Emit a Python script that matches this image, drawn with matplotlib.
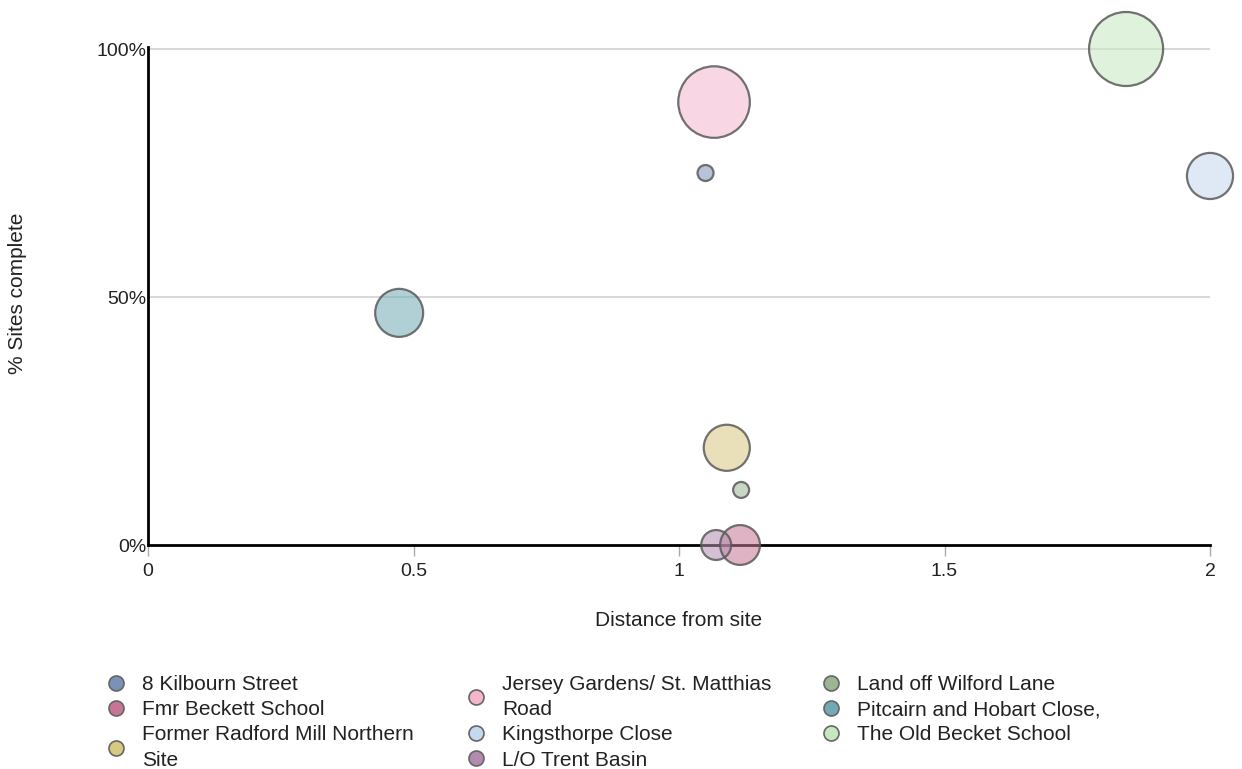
import numpy as np
import matplotlib
matplotlib.use("Agg")
import matplotlib.pyplot as plt
from matplotlib.ticker import FuncFormatter

plt.rcParams['font.family'] = ['Liberation Sans', 'DejaVu Sans']

# data
sites = ["8 Kilbourn Street", "Fmr Beckett School", "Former Radford Mill Northern\nSite",
         "Jersey Gardens/ St. Matthias\nRoad", "Kingsthorpe Close", "L/O Trent Basin",
         "Land off Wilford Lane", "Pitcairn and Hobart Close,", "The Old Becket School"]
distance = [1.05, 1.115, 1.09, 1.066, 2.0, 1.07, 1.117, 0.473, 1.842]
pct_complete = [75, 0, 19.6, 89.3, 74.4, 0, 11.1, 46.8, 100]
bubble_size = [1, 6.2, 8.3, 20, 8.3, 3.5, 1, 9, 21.4]
colors = ["#7a92b8", "#c87595", "#d8c880", "#f5b5cc", "#c5d8ef",
          "#b38bb0", "#9cb594", "#72aab3", "#c6e8bf"]

FS = 15
fig = plt.figure(figsize=(12.42, 7.69), dpi=100)
ax = fig.add_axes([148/1242, 1-545/769, (1210-148)/1242, (545-47)/769])

# radius in px = 8*sqrt(size); convert to points for marker area
px2pt = 72/100
for name, x, y, s, c in zip(sites, distance, pct_complete, bubble_size, colors):
    d_pt = 2*8*np.sqrt(s)*px2pt
    ax.scatter(x, y, s=d_pt**2, color=c, alpha=0.55, edgecolors="none", clip_on=False, zorder=3)
    ax.scatter(x, y, s=d_pt**2, facecolors="none", edgecolors="#5a5a5a", linewidths=1.6,
               alpha=0.85, clip_on=False, zorder=4)

ax.set_xlim(0, 2)
ax.set_ylim(0, 100*(545-47)/(545-49))
ax.set_xticks([0, 0.5, 1, 1.5, 2])
ax.set_xticklabels(["0", "0.5", "1", "1.5", "2"])
ax.set_yticks([0, 50, 100])
ax.yaxis.set_major_formatter(FuncFormatter(lambda v, p: f"{v:.0f}%"))
ax.tick_params(axis="x", length=8, width=1, color="#aaaaaa", labelsize=14, pad=5, labelcolor="#222222")
ax.tick_params(axis="y", length=0, labelsize=14, pad=1, labelcolor="#222222")

for yv in [50, 100]:
    ax.axhline(yv, color="#d9d9d9", lw=1.5, zorder=1)

for side in ["top", "right"]:
    ax.spines[side].set_visible(False)
ax.spines["left"].set_linewidth(2)
ax.spines["bottom"].set_linewidth(2)
ax.spines["bottom"].set_zorder(2)

ax.set_xlabel("Distance from site", fontsize=FS, labelpad=22, color="#222222")
fig.text(18/1242, 1-293/769, "% Sites complete", rotation=90, ha="center", va="center",
         fontsize=FS, color="#222222")

# legend: three columns, each its own legend so the tops line up
handles = [plt.Line2D([], [], marker="o", ls="none", markersize=10.8, markerfacecolor=c,
                      markeredgecolor="#666666", markeredgewidth=1.2) for c in colors]
col_left = [108, 468, 823]
for i, x0 in enumerate(col_left):
    leg = fig.legend(handles[3*i:3*i+3], sites[3*i:3*i+3], loc="upper left",
                     bbox_to_anchor=(x0/1242, 1-675/769), frameon=False, fontsize=FS,
                     handlelength=0.8, handletextpad=0.85, labelspacing=0.3,
                     borderaxespad=0, borderpad=0)
    for t in leg.get_texts():
        t.set_linespacing(1.4)
        t.set_color("#222222")

fig.savefig("out.png", dpi=100)
